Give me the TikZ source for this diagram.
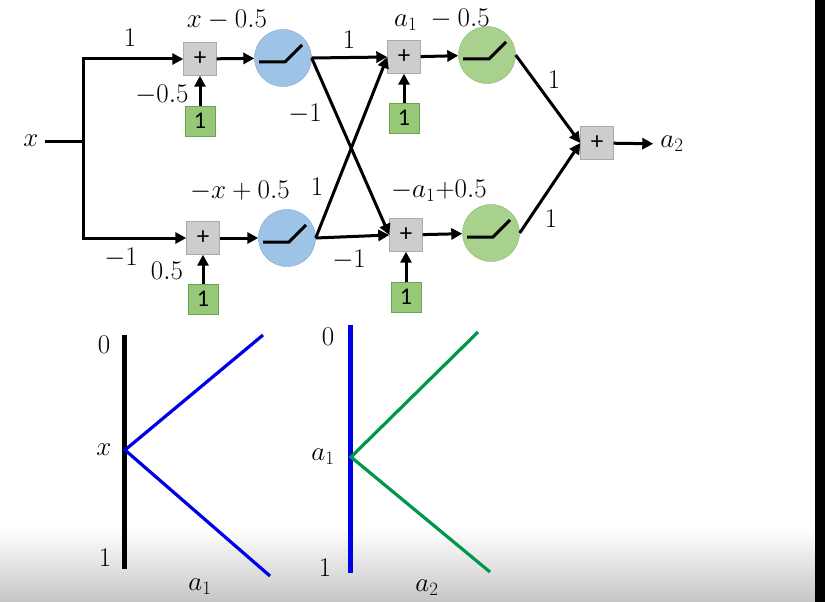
\RequirePackage{fix-cm}
\documentclass[tikz,border=0pt]{standalone}
\usepackage{fontspec}
\newfontfamily\boxfont{Carlito}
\usetikzlibrary{arrows.meta,positioning,calc}
\definecolor{boxgray}{RGB}{205,205,205}
\definecolor{boxedge}{RGB}{170,170,170}
\definecolor{relublue}{RGB}{157,195,230}
\definecolor{relublueedge}{RGB}{125,165,210}
\definecolor{relugreen}{RGB}{169,209,142}
\definecolor{relugreenedge}{RGB}{135,185,110}
\definecolor{biasgreen}{RGB}{150,200,120}
\definecolor{biasedge}{RGB}{105,165,80}
\definecolor{plotblue}{RGB}{0,0,230}
\definecolor{plotgreen}{RGB}{0,150,75}
\definecolor{fadegray}{RGB}{198,198,198}

\begin{document}
\begin{tikzpicture}[x=1pt,y=-1pt,
  addbox/.style={rectangle, draw=boxedge, fill=boxgray,
    minimum size=33pt, inner sep=0pt,
    font=\boxfont\fontsize{25}{25}\selectfont},
  biasbox/.style={rectangle, draw=biasedge, fill=biasgreen,
    minimum size=30pt, inner sep=0pt,
    font=\boxfont\fontsize{24}{24}\selectfont},
  bluerelu/.style={circle, draw=relublueedge, fill=relublue,
    minimum size=57pt, inner sep=0pt},
  greenrelu/.style={circle, draw=relugreenedge, fill=relugreen,
    minimum size=57pt, inner sep=0pt},
  wt/.style={inner sep=0pt, font=\fontsize{27}{27}\selectfont},
  arr/.style={-{Triangle[length=11pt,width=11pt]}, line width=3pt},
  kink/.style={line width=3pt, line join=miter},
  axisline/.style={line width=5pt},
  vline/.style={line width=3.2pt}
]
\useasboundingbox (0,0) rectangle (825,602);
\fill[white] (0,0) rectangle (825,602);
\shade[top color=white, bottom color=fadegray] (0,528) rectangle (815,602);
\fill[black] (815,0) rectangle (825,602);

\node[wt] (xin) at (31,141) {$x$};
\coordinate (split) at (83,141);
\node[addbox]    (p1) at (200,59)  {+};
\node[biasbox]   (b1) at (200,121) {1};
\node[bluerelu]  (r1) at (283,58)  {};
\node[addbox]    (p2) at (203,238) {+};
\node[biasbox]   (b2) at (203,299) {1};
\node[bluerelu]  (r2) at (287,238) {};
\node[addbox]    (p3) at (404,57)  {+};
\node[biasbox]   (b3) at (404,118) {1};
\node[greenrelu] (r3) at (487,55)  {};
\node[addbox]    (p4) at (406,235) {+};
\node[biasbox]   (b4) at (406,297) {1};
\node[greenrelu] (r4) at (491,233) {};
\node[addbox]    (po) at (597,143) {+};
\node[wt]        (a2) at (672,144) {$a_2$};

\node[wt] (w1)  at (130,38)  {$1$};
\node[wt] (w2)  at (121,258) {$-1$};
\node[wt] (c1)  at (162,95)  {$-0.5$};
\node[wt] (c2)  at (167,271) {$0.5$};
\node[wt] (h1)  at (227,20)  {$x-0.5$};
\node[wt] (h2)  at (240,191) {$-x+0.5$};
\node[wt] (w3)  at (349,40)  {$1$};
\node[wt] (w4)  at (305,114) {$-1$};
\node[wt] (w5)  at (317,187) {$1$};
\node[wt] (w6)  at (349,260) {$-1$};
\node[wt] (h3)  at (442,20)  {$a_1\;-0.5$};
\node[wt] (h4)  at (439,191) {$-a_1{+}0.5$};
\node[wt] (w7)  at (554,80)  {$1$};
\node[wt] (w8)  at (551,219) {$1$};

\draw[line width=3pt] ([xshift=6pt]xin.east) -- (split);
\draw[arr] (split) |- (p1.west);
\draw[arr] (split) |- (p2.west);
\foreach \b/\p in {b1/p1,b2/p2,b3/p3,b4/p4}
  \draw[arr] (\b) -- (\p);
\draw[arr] (p1) -- (r1);
\draw[arr] (p2) -- (r2);
\draw[arr] (r1.east) -- (p3.west);
\draw[arr] (r1.east) -- (p4.west);
\draw[arr] (r2.east) -- (p3.west);
\draw[arr] (r2.east) -- (p4.west);
\draw[arr] (p3) -- (r3);
\draw[arr] (p4) -- (r4);
\draw[arr] (r3.east) -- (po.west);
\draw[arr] (r4.east) -- (po.west);
\draw[arr, shorten >=7pt] (po) -- (a2);
\foreach \r in {r1,r2,r3,r4}
  \draw[kink] ($(\r)+(-24,4)$) -- ($(\r)+(2,4)$) -- ($(\r)+(19,-13)$);

\draw[axisline] (124,335) -- (124,569);
\draw[vline, plotblue] (263,335) -- (125,450) -- (270,576);
\node[wt] (t0) at (104,345) {$0$};
\node[wt] (tx) at (104,450) {$x$};
\node[wt] (t1) at (105,558) {$1$};
\node[wt] (ta1) at (200,587) {$a_1$};
\draw[axisline, plotblue] (350,325) -- (350,573);
\draw[vline, plotgreen] (478,332) -- (351,457) -- (490,572);
\node[wt] (u0) at (328,337) {$0$};
\node[wt] (ua1) at (323,457) {$a_1$};
\node[wt] (u1) at (325,568) {$1$};
\node[wt] (ua2) at (427,588) {$a_2$};
\end{tikzpicture}
\end{document}
